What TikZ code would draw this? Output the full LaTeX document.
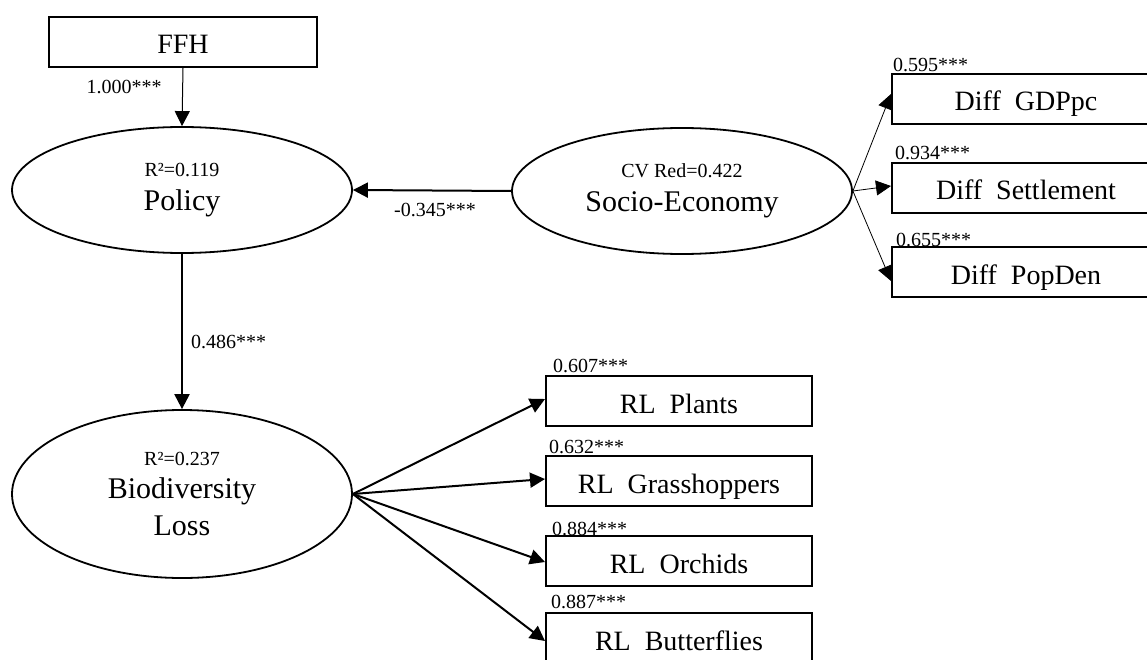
\documentclass[tikz,border=0pt]{standalone}
\usepackage{fontspec}
\setmainfont{Liberation Serif}
\usetikzlibrary{arrows.meta,shapes.geometric}
\tikzset{
  box/.style={draw, line width=2pt, minimum width=268pt, minimum height=50pt, inner sep=0pt,
    text height=26pt, text depth=2pt, font=\fontsize{28}{34}\selectfont},
  latent/.style={draw, ellipse, line width=1.8pt, minimum width=340pt, inner sep=0pt,
    align=center, font=\fontsize{30}{35}\selectfont},
  small/.style={font=\fontsize{20}{24}\selectfont, inner sep=0pt},
  arr/.style={-{Triangle[length=15pt,width=15pt]}},
}
\newcommand{\sml}{\fontsize{20}{24}\selectfont}
\begin{document}
\begin{tikzpicture}[x=1pt,y=-1pt]
\clip (0,0) rectangle (1147,660);
\fill[white] (0,0) rectangle (1147,660);
% boxes
\node[box] (ffh) at (183,42) {FFH};
\node[box] (gdp) at (1026,99) {Diff~~GDPpc};
\node[box] (set) at (1026,188) {Diff~~Settlement};
\node[box] (pop) at (1026,272) {Diff~~PopDen};
\node[box, minimum width=266pt] (rlp) at (679,401) {RL~~Plants};
\node[box, minimum width=266pt] (rlg) at (679,481) {RL~~Grasshoppers};
\node[box, minimum width=266pt] (rlo) at (679,561) {RL~~Orchids};
\node[box, minimum width=266pt] (rlb) at (679,638) {RL~~Butterflies};
% latent variables
\node[latent, minimum height=126pt] (policy) at (182,190) {{\sml R²=0.119}\\[-1pt]Policy};
\node[latent, minimum height=126pt] (socio) at (682,191) {{\sml CV Red=0.422}\\[-1pt]Socio-Economy};
\node[latent, minimum height=168pt] (bio) at (182,494) {{\sml R²=0.237}\\[-2pt]Biodiversity\\[2pt]Loss};
% connectors
\draw[arr, line width=1pt] (ffh.south) -- (policy.north);
\draw[arr, line width=2pt] (socio.west) -- (policy.east);
\draw[arr, line width=2.2pt] (policy.south) -- (bio.north);
\draw[arr, line width=0.8pt] (socio.east) -- ([yshift=5pt]gdp.west);
\draw[arr, line width=0.8pt] (socio.east) -- ([yshift=2pt]set.west);
\draw[arr, line width=0.8pt] (socio.east) -- ([yshift=-9pt]pop.west);
\draw[arr, line width=2pt] (bio.east) -- ([yshift=2pt]rlp.west);
\draw[arr, line width=2pt] (bio.east) -- ([yshift=2pt]rlg.west);
\draw[arr, line width=2pt] (bio.east) -- ([yshift=-1pt]rlo.west);
\draw[arr, line width=2pt] (bio.east) -- ([yshift=-3pt]rlb.west);
% coefficient labels
\node[small, anchor=base] (l1) at (124,94) {1.000***};
\node[small, anchor=base west] (l2) at (191,348) {0.486***};
\node[small, anchor=base] (l3) at (435,217) {-0.345***};
\node[small, anchor=base west] (l4) at (893,72) {0.595***};
\node[small, anchor=base west] (l5) at (895,160) {0.934***};
\node[small, anchor=base west] (l6) at (896,247) {0.655***};
\node[small, anchor=base west] (l7) at (553,372) {0.607***};
\node[small, anchor=base west] (l8) at (549,453) {0.632***};
\node[small, anchor=base west] (l9) at (552,535) {0.884***};
\node[small, anchor=base west] (l10) at (551,608) {0.887***};
\end{tikzpicture}
\end{document}
